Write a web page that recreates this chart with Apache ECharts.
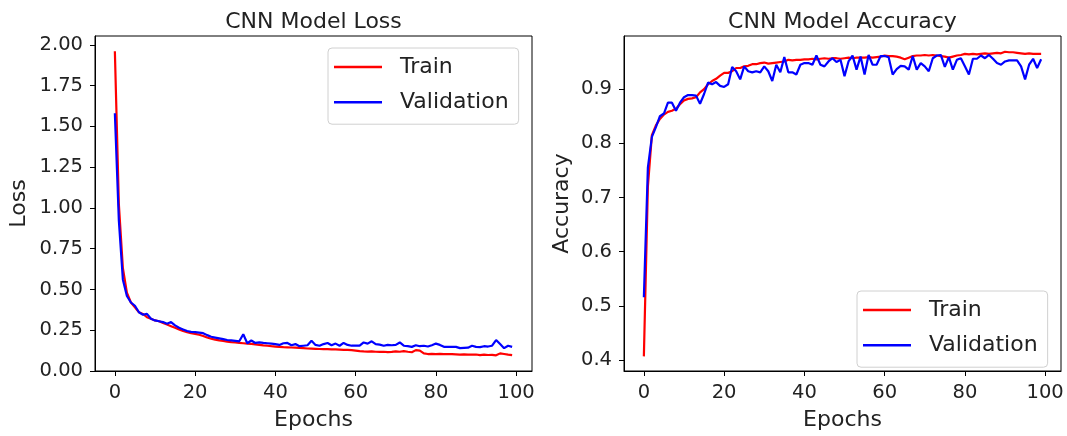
<!DOCTYPE html>
<html>
<head>
<meta charset="utf-8">
<script src="https://cdn.jsdelivr.net/npm/echarts@6/dist/echarts.min.js"></script>
<style>html,body{margin:0;padding:0;background:#fff;}#c{width:1067px;height:436px;}</style>
</head>
<body>
<div id="c"></div>
<script>
const epochs = Array.from({length: 100}, (_, i) => i);
const xTicks = [0, 20, 40, 60, 80, 100];
const lossTicks = [0, 0.25, 0.5, 0.75, 1.0, 1.25, 1.5, 1.75, 2.0];
const accTicks = [0.4, 0.5, 0.6, 0.7, 0.8, 0.9];

const trainLoss = [1.96,1.02,0.63,0.48,0.42,0.39,0.36,0.35,0.33,0.32,
0.31,0.305,0.295,0.285,0.275,0.265,0.255,0.245,0.238,0.232,
0.228,0.222,0.215,0.205,0.198,0.192,0.188,0.185,0.18,0.177,
0.175,0.172,0.17,0.168,0.166,0.163,0.16,0.157,0.155,0.152,
0.15,0.148,0.146,0.145,0.144,0.143,0.142,0.14,0.138,0.137,
0.136,0.135,0.134,0.134,0.133,0.132,0.131,0.13,0.13,0.128,
0.125,0.122,0.12,0.119,0.12,0.118,0.117,0.118,0.116,0.117,
0.12,0.118,0.122,0.118,0.115,0.128,0.125,0.108,0.104,0.105,
0.104,0.105,0.103,0.104,0.103,0.102,0.101,0.102,0.101,0.1,
0.101,0.097,0.1,0.098,0.099,0.096,0.108,0.104,0.1,0.097];

const valLoss = [1.58,0.92,0.56,0.46,0.42,0.40,0.36,0.345,0.35,0.32,
0.31,0.305,0.30,0.29,0.30,0.28,0.265,0.255,0.245,0.24,
0.238,0.235,0.232,0.22,0.21,0.205,0.2,0.195,0.19,0.188,
0.185,0.182,0.225,0.17,0.187,0.172,0.175,0.172,0.17,0.168,
0.165,0.16,0.17,0.172,0.158,0.165,0.152,0.155,0.158,0.185,
0.16,0.155,0.165,0.172,0.158,0.168,0.155,0.172,0.16,0.155,
0.155,0.155,0.175,0.168,0.182,0.165,0.162,0.155,0.16,0.158,
0.16,0.175,0.155,0.152,0.148,0.158,0.152,0.155,0.15,0.158,
0.168,0.16,0.148,0.148,0.148,0.148,0.14,0.142,0.143,0.155,
0.148,0.146,0.152,0.15,0.155,0.19,0.165,0.14,0.155,0.148];

const trainAcc = [0.407,0.72,0.815,0.833,0.845,0.853,0.858,0.86,0.864,0.872,
0.879,0.882,0.883,0.885,0.894,0.90,0.909,0.915,0.919,0.925,
0.930,0.930,0.933,0.939,0.939,0.942,0.943,0.946,0.946,0.948,
0.949,0.947,0.948,0.949,0.95,0.951,0.954,0.953,0.954,0.954,
0.955,0.955,0.956,0.955,0.956,0.957,0.956,0.957,0.957,0.956,
0.957,0.958,0.957,0.958,0.958,0.958,0.959,0.958,0.959,0.96,
0.962,0.961,0.961,0.96,0.958,0.955,0.958,0.961,0.962,0.962,
0.963,0.962,0.963,0.962,0.961,0.96,0.958,0.96,0.962,0.963,
0.965,0.964,0.965,0.964,0.965,0.966,0.965,0.966,0.967,0.966,
0.969,0.968,0.968,0.967,0.966,0.965,0.966,0.965,0.965,0.965];

const valAcc = [0.516,0.755,0.812,0.83,0.85,0.855,0.875,0.875,0.86,0.875,
0.885,0.889,0.889,0.888,0.873,0.891,0.912,0.909,0.913,0.906,
0.904,0.909,0.941,0.933,0.918,0.942,0.933,0.931,0.933,0.931,
0.942,0.933,0.915,0.945,0.931,0.959,0.931,0.931,0.927,0.945,
0.948,0.948,0.945,0.962,0.945,0.942,0.951,0.957,0.950,0.954,
0.924,0.951,0.962,0.936,0.960,0.927,0.963,0.945,0.945,0.961,
0.961,0.959,0.927,0.937,0.943,0.942,0.936,0.961,0.936,0.948,
0.942,0.933,0.957,0.962,0.963,0.941,0.959,0.936,0.954,0.957,
0.942,0.927,0.956,0.956,0.962,0.957,0.963,0.956,0.948,0.945,
0.951,0.953,0.953,0.953,0.942,0.918,0.945,0.956,0.939,0.955];

const pairs = (ys) => epochs.map((x, i) => [x, ys[i]]);
const FONT = 'DejaVu Sans';
const TXT = '#222';

function xAxisFor(gi) {
  return {
    type: 'value', gridIndex: gi, min: -4.95, max: 103.95,
    name: 'Epochs', nameLocation: 'middle', nameGap: 38,
    nameTextStyle: {fontFamily: FONT, fontSize: 22, color: TXT},
    axisLine: {show: true, onZero: false, lineStyle: {color: '#000', width: 1}},
    axisTick: {show: true, length: 5, inside: false, customValues: xTicks, lineStyle: {color: '#000'}},
    axisLabel: {customValues: xTicks, fontFamily: FONT, fontSize: 19.5, color: TXT, margin: 12},
    splitLine: {show: false}
  };
}
function yAxisFor(gi, name, min, max, ticks, fmt, gap) {
  return {
    type: 'value', gridIndex: gi, min: min, max: max,
    name: name, nameLocation: 'middle', nameGap: gap,
    nameTextStyle: {fontFamily: FONT, fontSize: 22, color: TXT},
    axisLine: {show: true, onZero: false, lineStyle: {color: '#000', width: 1}},
    axisTick: {show: true, length: 5, inside: false, customValues: ticks, lineStyle: {color: '#000'}},
    axisLabel: {customValues: ticks, fontFamily: FONT, fontSize: 19.5, color: TXT, margin: 12,
      formatter: (v) => fmt(v)},
    splitLine: {show: false}
  };
}
function line(name, gi, ys, color) {
  return {
    name: name, type: 'line', xAxisIndex: gi, yAxisIndex: gi,
    data: pairs(ys), symbol: 'none', smooth: false,
    lineStyle: {color: color, width: 2.2}, itemStyle: {color: color},
    animation: false, z: 3
  };
}
function legendAt(left, top) {
  return {
    orient: 'vertical', left: left, top: top,
    data: ['Train', 'Validation'],
    icon: 'rect', itemWidth: 48, itemHeight: 2.5, itemGap: 11.2,
    padding: [7, 10, 10, 6],
    backgroundColor: 'rgba(255,255,255,0.8)',
    borderColor: '#d0d0d0', borderWidth: 1, borderRadius: 4,
    textStyle: {fontFamily: FONT, fontSize: 22, color: TXT, lineHeight: 24, padding: [0, 0, 0, 13]},
    selectedMode: false
  };
}

const chart = echarts.init(document.getElementById('c'), null, {renderer: 'canvas'});
chart.setOption({
  animation: false,
  backgroundColor: '#fff',
  grid: [
    {left: 95, top: 36, width: 437, height: 340.7, show: true, borderColor: '#000', borderWidth: 1, containLabel: false},
    {left: 624, top: 36, width: 437, height: 340.7, show: true, borderColor: '#000', borderWidth: 1, containLabel: false}
  ],
  xAxis: [xAxisFor(0), xAxisFor(1)],
  yAxis: [
    yAxisFor(0, 'Loss', 0, 2.054, lossTicks, (v) => v.toFixed(2), 65),
    yAxisFor(1, 'Accuracy', 0.38, 0.998, accTicks, (v) => v.toFixed(1), 51)
  ],
  legend: [legendAt(328, 48), legendAt(857, 291)],
  series: [
    line('Train', 0, trainLoss, '#ff0000'),
    line('Validation', 0, valLoss, '#0000ff'),
    line('Train', 1, trainAcc, '#ff0000'),
    line('Validation', 1, valAcc, '#0000ff')
  ],
  graphic: [
    {type: 'text', x: 313.5, y: 22, style: {text: 'CNN Model Loss', fontFamily: FONT, fontSize: 22, fill: TXT, textAlign: 'center', textVerticalAlign: 'middle'}},
    {type: 'text', x: 842.5, y: 22, style: {text: 'CNN Model Accuracy', fontFamily: FONT, fontSize: 22, fill: TXT, textAlign: 'center', textVerticalAlign: 'middle'}}
  ]
});
</script>
</body>
</html>
